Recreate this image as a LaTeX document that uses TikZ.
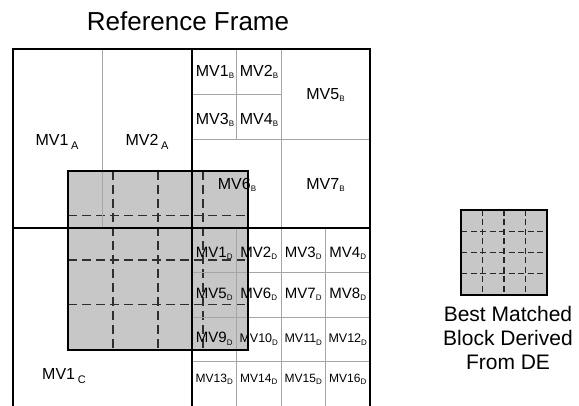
\documentclass[tikz,border=0pt]{standalone}
\usepackage{fontspec}
\setmainfont{Liberation Sans}
\usetikzlibrary{positioning}

% small lowered index letters
\newcommand{\lowidx}[1]{\raisebox{-2pt}{\fontsize{8}{8}\selectfont #1}}
\newcommand{\bigidx}[1]{\,\raisebox{-4pt}{\fontsize{11}{11}\selectfont #1}}

\tikzset{
  frameline/.style={line width=2pt},
  thingrid/.style={draw=black!35, line width=0.6pt},
  dashgrid/.style={draw=black!82, line width=1.6pt, dash pattern=on 9pt off 5pt},
  smalldash/.style={draw=black!85, line width=1.4pt, dash pattern=on 6pt off 3.5pt},
  blockfill/.style={fill=black!22},
  lbl/.style={inner sep=0pt, anchor=base, font=\fontsize{16}{16}\selectfont},
  lbld/.style={lbl, font=\fontsize{15}{15}\selectfont},
  caption/.style={lbl, font=\fontsize{21}{21}\selectfont},
}

\begin{document}
\begin{tikzpicture}[x=1pt,y=-1pt]
\useasboundingbox (0,0) rectangle (579,406);

\node[lbl, font=\fontsize{26}{26}\selectfont] (title) at (188,31) {Reference Frame};

% best matched block, drawn under the grid
\fill[blockfill] (68,171) rectangle (248,350);
\foreach \x in {113,158,203}
  \draw[dashgrid] (\x,171) -- (\x,350);
\foreach \y in {215.5,260,304.5}
  \draw[dashgrid] (68,\y) -- (248,\y);

% thin grid lines
\draw[thingrid] (102,49) -- (102,228);
\draw[thingrid] (236.5,49) -- (236.5,139) (192,94.5) -- (281,94.5);
\draw[thingrid] (281,49) -- (281,228) (192,139) -- (370,139);
\foreach \t in {236.5,281,325.5}
  \draw[thingrid] (\t,228) -- (\t,406);
\foreach \t in {272.5,317,361.5}
  \draw[thingrid] (192,\t) -- (370,\t);

% frame
\draw[frameline] (13,406) -- (13,49) -- (370,49) -- (370,406);
\draw[frameline] (192,49) -- (192,406) (13,228) -- (370,228);
\draw[frameline] (68,171) rectangle (248,350);

% labels A and C
\node[lbl] (mv1a) at (57,146) {MV1\bigidx{A}};
\node[lbl] (mv2a) at (147,146) {MV2\bigidx{A}};
\node[lbl] (mv1c) at (64,380) {MV1\bigidx{C}};

% labels B
\node[lbl] (mv1b) at (215,77) {MV1\lowidx{B}};
\node[lbl] (mv2b) at (259,77) {MV2\lowidx{B}};
\node[lbl] (mv3b) at (215,125) {MV3\lowidx{B}};
\node[lbl] (mv4b) at (259,125) {MV4\lowidx{B}};
\node[lbl] (mv5b) at (325.5,100) {MV5\lowidx{B}};
\node[lbl] (mv6b) at (237,190) {MV6\lowidx{B}};
\node[lbl] (mv7b) at (325.5,190) {MV7\lowidx{B}};

% labels D
\foreach \n [count=\i from 0] in {1,2,3,4}
  \node[lbld] (mvd\n) at (214.25+44.5*\i,258) {MV\n\lowidx{D}};
\foreach \n [count=\i from 0] in {5,6,7,8}
  \node[lbld] (mvd\n) at (214.25+44.5*\i,299) {MV\n\lowidx{D}};
\node[lbld] (mvd9) at (214.25,343) {MV9\lowidx{D}};
\foreach \n [count=\i from 1] in {10,11,12}
  \node[lbld, font=\fontsize{12.5}{12.5}\selectfont] (mvd\n) at (214.25+44.5*\i,343) {MV\n\lowidx{D}};
\foreach \n [count=\i from 0] in {13,14,15,16}
  \node[lbld, font=\fontsize{12}{12}\selectfont] (mvd\n) at (214.25+44.5*\i,382) {MV\n\lowidx{D}};

% the matched block on its own
\fill[blockfill] (461,210) rectangle (547,295);
\foreach \x in {482.5,504,525.5}
  \draw[smalldash] (\x,210) -- (\x,295);
\foreach \y in {231.25,252.5,273.75}
  \draw[smalldash] (461,\y) -- (547,\y);
\draw[frameline] (461,210) rectangle (547,295);
\node[caption] (best1) at (508,322) {Best Matched};
\node[caption] (best2) at (508,346) {Block Derived};
\node[caption] (best3) at (508,370) {From DE};
\end{tikzpicture}
\end{document}
